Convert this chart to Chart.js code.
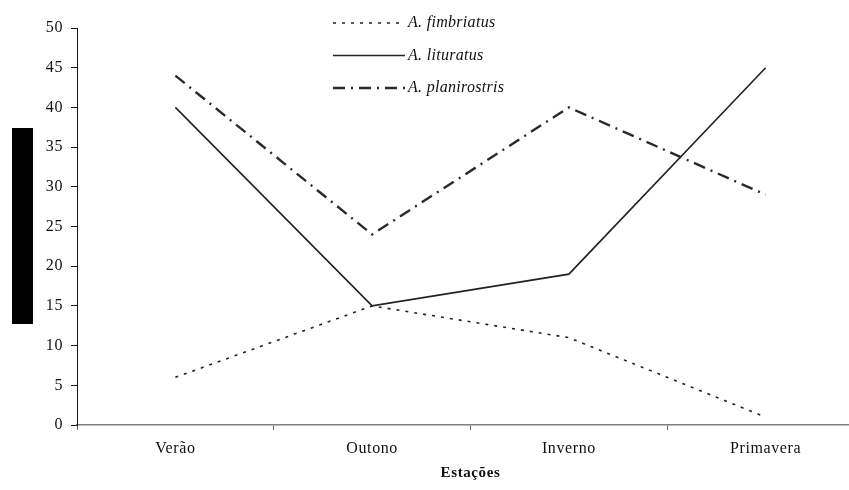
<!DOCTYPE html>
<html>
<head>
<meta charset="utf-8">
<script src="https://cdn.jsdelivr.net/npm/chart.js@4"></script>
<style>
  html, body { margin:0; padding:0; background:#fff; overflow:hidden; }
  #wrap { position:relative; width:849px; height:490px; overflow:hidden; }
  #chart { position:absolute; left:0; top:0; }
  /* redacted axis title block */
  #ylab-block { position:absolute; left:12px; top:128px; width:21px; height:196px; background:#000; }
</style>
</head>
<body>
<div id="wrap">
  <canvas id="chart" width="864" height="490"></canvas>
  <div id="ylab-block"></div>
</div>
<script>
const seasons = ['Verão', 'Outono', 'Inverno', 'Primavera'];
const fimbriatus = [6, 15, 11, 1];
const lituratus = [40, 15, 19, 45];
const planirostris = [44, 24, 40, 29];
const yTicks = [0, 50, 5]; // min, max, step

const SERIF = "'Liberation Serif', 'DejaVu Serif', serif";

// legend stacked inside the plot, like the original
const insideLegend = {
  id: 'insideLegend',
  afterDatasetsDraw(chart, args, opts){
    const ctx = chart.ctx;
    ctx.save();
    if ('letterSpacing' in ctx) ctx.letterSpacing = '0.3px';
    chart.data.datasets.forEach((ds, i) => {
      const y = opts.top + i * opts.rowGap;
      ctx.beginPath();
      ctx.strokeStyle = ds.borderColor;
      ctx.lineWidth = ds.borderWidth;
      ctx.setLineDash(ds.borderDash || []);
      ctx.moveTo(opts.x, y);
      ctx.lineTo(opts.x + opts.lineLen, y);
      ctx.stroke();
      ctx.setLineDash([]);
      ctx.fillStyle = '#111';
      ctx.font = 'italic 16px ' + SERIF;
      ctx.textBaseline = 'middle';
      ctx.textAlign = 'left';
      ctx.fillText(ds.label, opts.x + opts.lineLen + 3, y);
    });
    ctx.restore();
  }
};

const spacing = {
  id: 'spacing',
  beforeDraw(chart){ if ('letterSpacing' in chart.ctx) chart.ctx.letterSpacing = '0.6px'; }
};

new Chart(document.getElementById('chart'), {
  type: 'line',
  data: {
    labels: seasons,
    datasets: [
      { label: 'A. fimbriatus', data: fimbriatus, borderColor: '#222', borderWidth: 1.6, borderDash: [3, 6] },
      { label: 'A. lituratus', data: lituratus, borderColor: '#222', borderWidth: 1.6 },
      { label: 'A. planirostris', data: planirostris, borderColor: '#2a2a2a', borderWidth: 2.4, borderDash: [12, 6, 2, 6] }
    ]
  },
  plugins: [spacing, insideLegend],
  options: {
    responsive: false,
    animation: false,
    tension: 0,
    elements: { point: { radius: 0 } },
    layout: { padding: { top: 28, left: 0, right: 0, bottom: 0 } },
    plugins: {
      legend: { display: false },
      tooltip: { enabled: false },
      insideLegend: { x: 333, lineLen: 72, top: 23, rowGap: 32.5 }
    },
    scales: {
      x: {
        offset: true,
        grid: { display: true, drawOnChartArea: false, offset: true, tickLength: 5, color: '#666' },
        border: { color: '#808080', width: 1.5 },
        ticks: { color: '#111', font: { family: SERIF, size: 16 }, padding: 9, maxRotation: 0 },
        title: { display: true, text: 'Estações', color: '#111', font: { family: SERIF, size: 15, weight: 'bold' }, padding: { top: 0, bottom: 8 } },
        afterFit(scale){ scale.height = 65; }
      },
      y: {
        min: yTicks[0], max: yTicks[1],
        grid: { display: true, drawOnChartArea: false, tickLength: 6, color: '#111' },
        border: { color: '#111', width: 1 },
        ticks: { stepSize: yTicks[2], color: '#111', font: { family: SERIF, size: 16 }, padding: 8 },
        afterFit(scale){ scale.width = 77; }
      }
    }
  }
});
</script>
</body>
</html>
